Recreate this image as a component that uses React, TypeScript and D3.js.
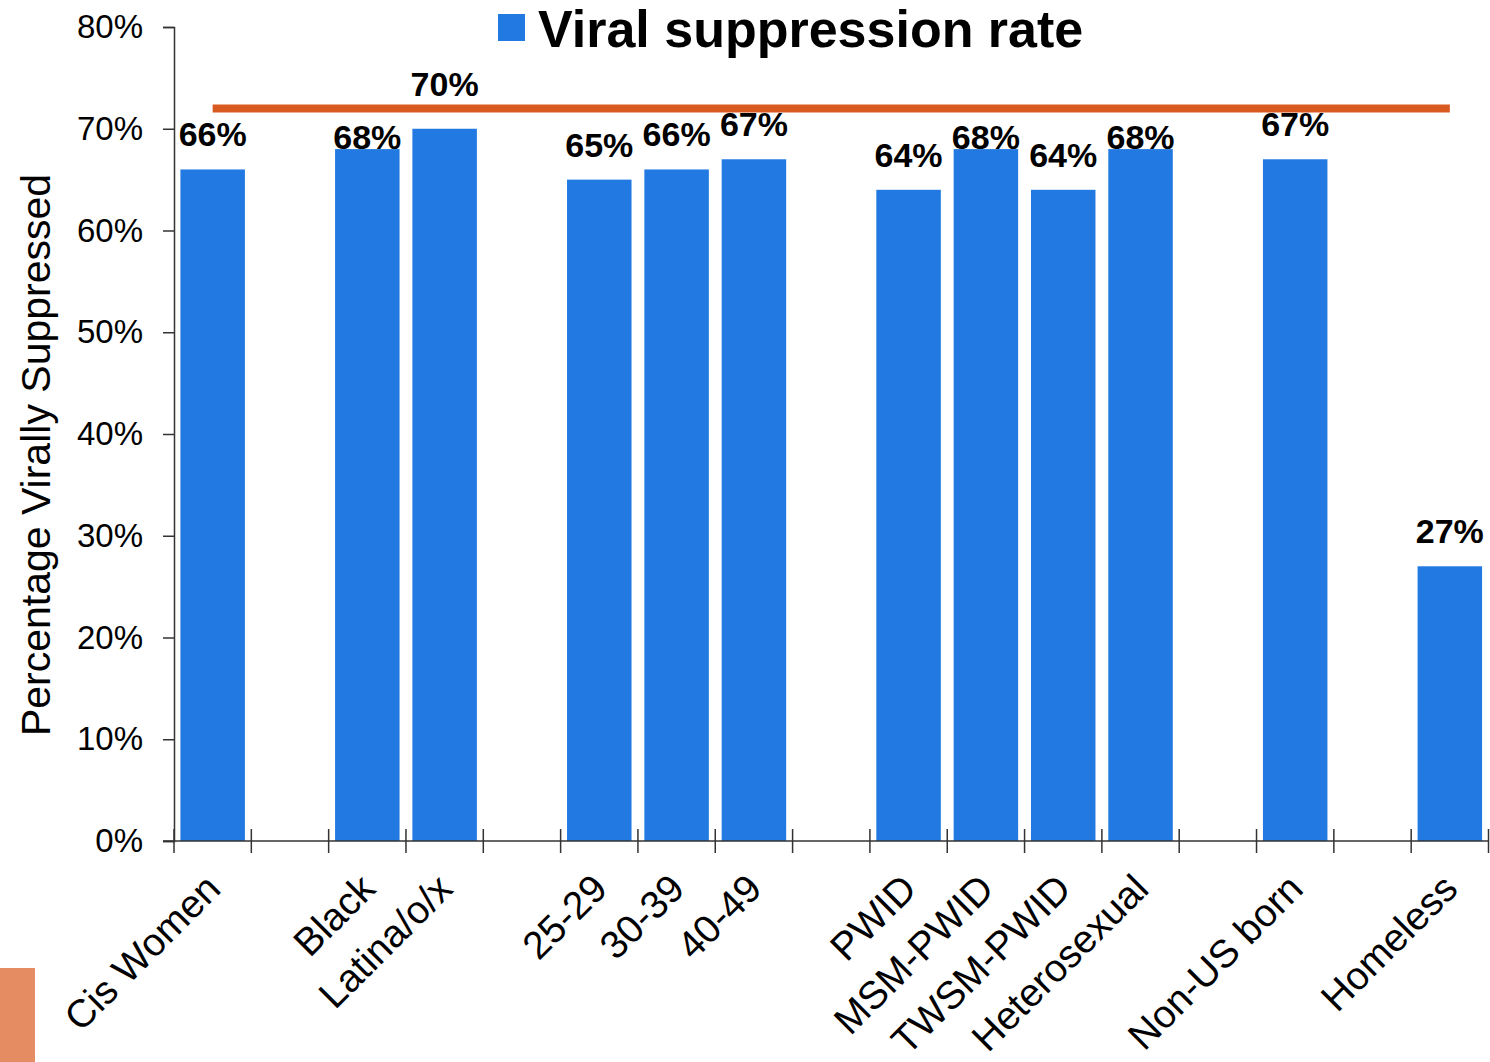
import { useEffect, useRef } from "react";
import * as d3 from "d3";

// empty strings are the spacer slots between the groups
const categories = [
  "Cis Women", "",
  "Black", "Latina/o/x", "",
  "25-29", "30-39", "40-49", "",
  "PWID", "MSM-PWID", "TWSM-PWID", "Heterosexual", "",
  "Non-US born", "",
  "Homeless",
];
const suppression: (number | null)[] = [
  66, null,
  68, 70, null,
  65, 66, 67, null,
  64, 68, 64, 68, null,
  67, null,
  27,
];
const target = 72;
const yTicks = [0, 10, 20, 30, 40, 50, 60, 70, 80];
const seriesName = "Viral suppression rate";
const yTitle = "Percentage Virally Suppressed";

const FONT = "'Liberation Sans', Arial, Helvetica, sans-serif";
const BLUE = "#2279e2";
const ORANGE = "#d95a20";

export default function App() {
  const svgRef = useRef<SVGSVGElement | null>(null);

  useEffect(() => {
    if (!svgRef.current) return;
    const svg = d3.select(svgRef.current);
    svg.selectAll("*").remove();

    const x = d3.scaleBand<number>()
      .domain(d3.range(categories.length))
      .range([174, 1488.5])
      .padding(0);
    const bw = x.bandwidth();
    const barPad = 0.083;

    const y = d3.scaleLinear().domain([0, 80]).range([841, 27]);

    // little orange block in the corner
    svg.append("rect")
      .attr("x", 0).attr("y", 968)
      .attr("width", 35).attr("height", 94)
      .attr("fill", "#e58c62");

    // bars
    const rows = categories
      .map((c, i) => ({ c, i, v: suppression[i] }))
      .filter(d => d.v !== null) as { c: string; i: number; v: number }[];

    svg.append("g")
      .selectAll("rect")
      .data(rows)
      .enter()
      .append("rect")
      .attr("x", d => (x(d.i) as number) + bw * barPad)
      .attr("width", bw * (1 - 2 * barPad))
      .attr("y", d => y(d.v))
      .attr("height", d => y(0) - y(d.v))
      .attr("fill", BLUE);

    // y axis
    const yAxis = svg.append("g")
      .attr("transform", `translate(174,0)`)
      .call(d3.axisLeft(y).tickValues(yTicks).tickSize(11).tickPadding(20).tickFormat(d => `${d}%`));
    yAxis.select(".domain").attr("stroke", "#333").attr("stroke-width", 1.5);
    yAxis.selectAll("line").attr("stroke", "#333").attr("stroke-width", 1.5);
    yAxis.selectAll("text")
      .attr("fill", "#000")
      .attr("font-size", 33)
      .attr("font-family", FONT);

    // x axis line + boundary ticks
    const xAxis = svg.append("g");
    xAxis.append("line")
      .attr("x1", 163).attr("x2", x.range()[1])
      .attr("y1", y(0)).attr("y2", y(0))
      .attr("stroke", "#333").attr("stroke-width", 1.5);
    const bounds = [...categories.map((_, i) => x(i) as number), x.range()[1]];
    xAxis.selectAll(".tick")
      .data(bounds)
      .enter()
      .append("line")
      .attr("x1", d => d).attr("x2", d => d)
      .attr("y1", y(0) - 12).attr("y2", y(0) + 12)
      .attr("stroke", "#333").attr("stroke-width", 1.5);

    xAxis.selectAll(".lbl")
      .data(rows)
      .enter()
      .append("text")
      .attr("transform", d => `translate(${(x(d.i) as number) + bw / 2 + 10},${y(0) + 50}) rotate(-45)`)
      .attr("text-anchor", "end")
      .attr("font-size", 39)
      .attr("font-family", FONT)
      .attr("fill", "#000")
      .text(d => d.c);

    // target line across the first to last bar
    const lineY = y(target);
    svg.append("line")
      .attr("x1", (x(0) as number) + bw / 2)
      .attr("x2", (x(categories.length - 1) as number) + bw / 2)
      .attr("y1", lineY).attr("y2", lineY)
      .attr("stroke", ORANGE).attr("stroke-width", 8);

    // value labels, nudged off the target line when they would cross it
    const labelY = (v: number) => {
      const base = y(v) - 23;
      if (base - 24 > lineY + 3) return base;
      if (v >= 70) return lineY - 12;
      return Math.max(y(v), lineY + 30);
    };
    svg.append("g")
      .selectAll("text")
      .data(rows)
      .enter()
      .append("text")
      .attr("x", d => (x(d.i) as number) + bw / 2)
      .attr("y", d => labelY(d.v))
      .attr("text-anchor", "middle")
      .attr("font-size", 34)
      .attr("font-weight", "bold")
      .attr("font-family", FONT)
      .attr("fill", "#000")
      .text(d => `${d.v}%`);

    // y title
    svg.append("text")
      .attr("transform", `translate(50,455) rotate(-90)`)
      .attr("text-anchor", "middle")
      .attr("font-size", 41)
      .attr("font-family", FONT)
      .attr("fill", "#000")
      .text(yTitle);

    // legend
    const legend = svg.append("g");
    legend.append("rect")
      .attr("x", 498).attr("y", 14)
      .attr("width", 27).attr("height", 27)
      .attr("fill", BLUE);
    legend.append("text")
      .attr("x", 538).attr("y", 47)
      .attr("font-size", 52)
      .attr("font-weight", "bold")
      .attr("font-family", FONT)
      .attr("fill", "#000")
      .text(seriesName);
  }, []);

  return (
    <div style={{ position: "absolute", left: 0, top: 0, width: 1490, height: 1062, background: "#fff" }}>
      <svg ref={svgRef} width={1490} height={1062} style={{ display: "block" }} />
    </div>
  );
}
